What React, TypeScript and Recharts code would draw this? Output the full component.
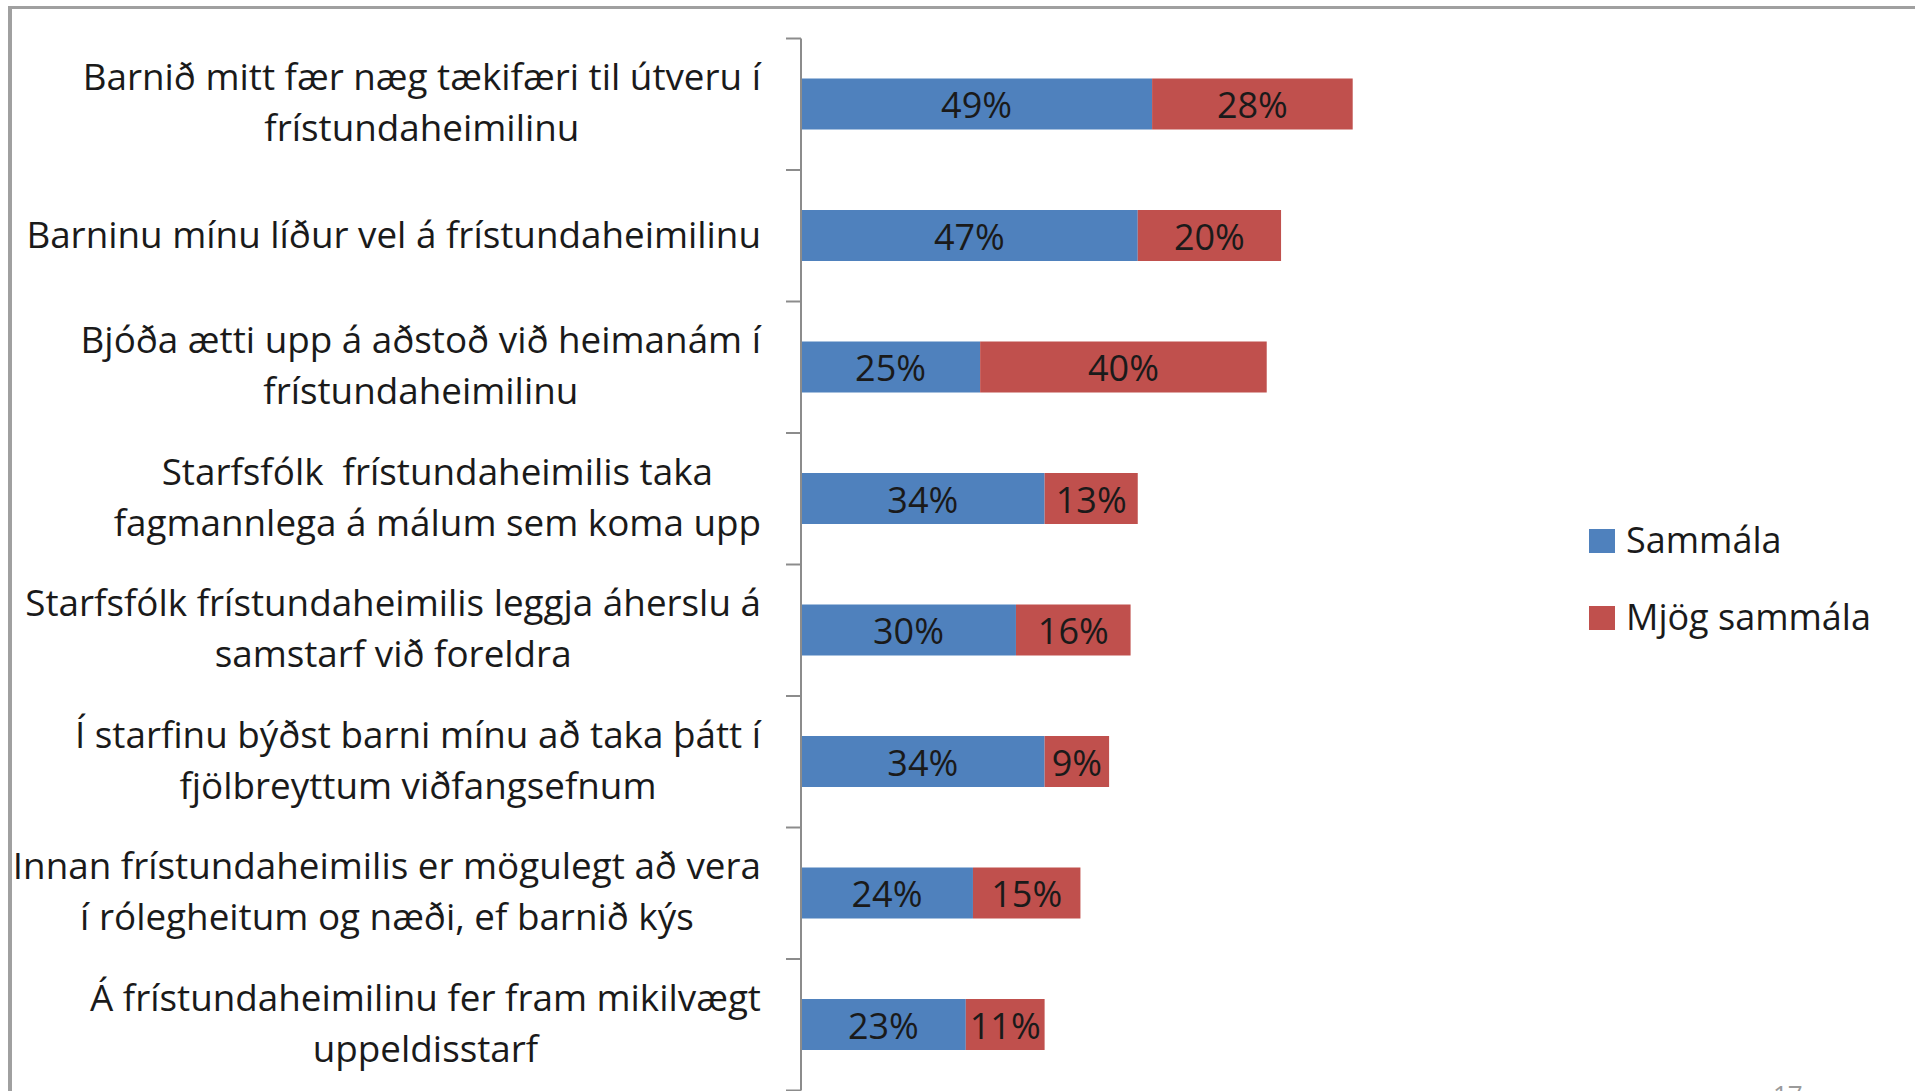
import { BarChart, Bar, XAxis, YAxis, Legend, LabelList } from 'recharts'

const categories = [
  'Barnið mitt fær næg tækifæri til útveru í\nfrístundaheimilinu',
  'Barninu mínu líður vel á frístundaheimilinu',
  'Bjóða ætti upp á aðstoð við heimanám í\nfrístundaheimilinu',
  'Starfsfólk  frístundaheimilis taka\nfagmannlega á málum sem koma upp',
  'Starfsfólk frístundaheimilis leggja áherslu á\nsamstarf við foreldra',
  'Í starfinu býðst barni mínu að taka þátt í\nfjölbreyttum viðfangsefnum',
  'Innan frístundaheimilis er mögulegt að vera\ní rólegheitum og næði, ef barnið kýs',
  'Á frístundaheimilinu fer fram mikilvægt\nuppeldisstarf',
]
const sammala = [49, 47, 25, 34, 30, 34, 24, 23]
const mjogSammala = [28, 20, 40, 13, 16, 9, 15, 11]
const legendOrder = ['sammala', 'mjog']

const BLUE = '#4f81bd'
const RED = '#c0504d'
const TEXT = '#1a1a1a'
const FONT = '"Open Sans", sans-serif'

const data = categories.map((name, i) => ({ name, sammala: sammala[i], mjog: mjogSammala[i] }))

// layout
const W = 1915
const H = 1100
const TOP = 38.5
const PLOT_H = 1052
const AXIS_X = 801
const PLOT_W = 716.5
const BAND = PLOT_H / categories.length
const LABEL_SIZE = 36.8

let ctx: CanvasRenderingContext2D | null = null
const measure = (s: string) => {
  if (!ctx) {
    ctx = document.createElement('canvas').getContext('2d')
    if (ctx) ctx.font = `${LABEL_SIZE}px "Open Sans"`
  }
  return ctx ? ctx.measureText(s).width : s.length * 17
}

const CatTick = (props: any) => {
  const { y, payload, index } = props
  const lines: string[] = String(payload.value).split('\n')
  const right = AXIS_X - 40
  const w = Math.max(...lines.map(measure))
  const cx = right - w / 2
  const base = lines.length === 1 ? [12] : [-14, 37]
  const last = index === categories.length - 1
  return (
    <g>
      <line x1={AXIS_X - 15} x2={AXIS_X} y1={y - BAND / 2} y2={y - BAND / 2} stroke="#8c8c8c" strokeWidth={2} />
      {last && <line x1={AXIS_X - 15} x2={AXIS_X} y1={y + BAND / 2} y2={y + BAND / 2} stroke="#8c8c8c" strokeWidth={2} />}
      {lines.map((l, i) => (
        <text key={i} x={lines.length === 1 ? right : cx} y={y + base[i]}
          textAnchor={lines.length === 1 ? 'end' : 'middle'}
          fontSize={LABEL_SIZE} fontFamily={FONT} fill={TEXT} style={{ whiteSpace: 'pre' }}>
          {l}
        </text>
      ))}
    </g>
  )
}

const pctLabel = (p: any) => {
  const { x, y, width, height, value } = p
  return (
    <text x={x + width / 2} y={y + height / 2 + 14} textAnchor="middle"
      fontSize={36} fontFamily={FONT} fill={TEXT}>
      {value}%
    </text>
  )
}

// zero-size wrapper so the legend does not take room from the plot
const LegendBox = (p: any) => {
  const items = [...(p.payload ?? [])].sort(
    (a: any, b: any) => legendOrder.indexOf(a.dataKey) - legendOrder.indexOf(b.dataKey))
  return (
    <div style={{ position: 'relative', width: 0, height: 0 }}>
      <svg width={330} height={130} style={{ position: 'absolute', left: 0, top: 0, overflow: 'visible' }}>
        {items.map((it: any, i: number) => (
          <g key={i}>
            <rect x={9} y={9 + i * 77} width={26} height={24} fill={it.color} />
            <text x={46} y={33 + i * 77} fontSize={36} fontFamily={FONT} fill={TEXT}>{it.value}</text>
          </g>
        ))}
      </svg>
    </div>
  )
}

export default function App() {
  return (
    <div style={{ position: 'fixed', left: 0, top: 0, width: W, height: 1091, overflow: 'hidden', background: '#fff' }}>
      <div style={{ position: 'absolute', left: 8, top: 6, right: -10, bottom: -10,
        borderLeft: '4px solid #a0a0a0', borderTop: '3px solid #a0a0a0' }} />
      <div style={{ position: 'absolute', left: 0, top: 0 }}>
        <BarChart layout="vertical" width={W} height={H} data={data}
          margin={{ top: TOP, right: W - AXIS_X - PLOT_W, bottom: H - TOP - PLOT_H, left: 0 }}>
          <XAxis type="number" domain={[0, 100]} hide />
          <YAxis type="category" dataKey="name" width={AXIS_X} interval={0}
            axisLine={{ stroke: '#8c8c8c', strokeWidth: 2 }} tickLine={false} tick={<CatTick />} />
          <Legend content={<LegendBox />}
            wrapperStyle={{ position: 'absolute', left: 1580, top: 520, width: 0, height: 0 }} />
          <Bar dataKey="sammala" name="Sammála" stackId="a" fill={BLUE} barSize={51} isAnimationActive={false}>
            <LabelList dataKey="sammala" content={pctLabel} />
          </Bar>
          <Bar dataKey="mjog" name="Mjög sammála" stackId="a" fill={RED} barSize={51} isAnimationActive={false}>
            <LabelList dataKey="mjog" content={pctLabel} />
          </Bar>
        </BarChart>
      </div>
      <div style={{ position: 'absolute', left: 1773, top: 1081, fontSize: 26, lineHeight: 1,
        fontFamily: FONT, color: '#9a9a9a' }}>17</div>
    </div>
  )
}
